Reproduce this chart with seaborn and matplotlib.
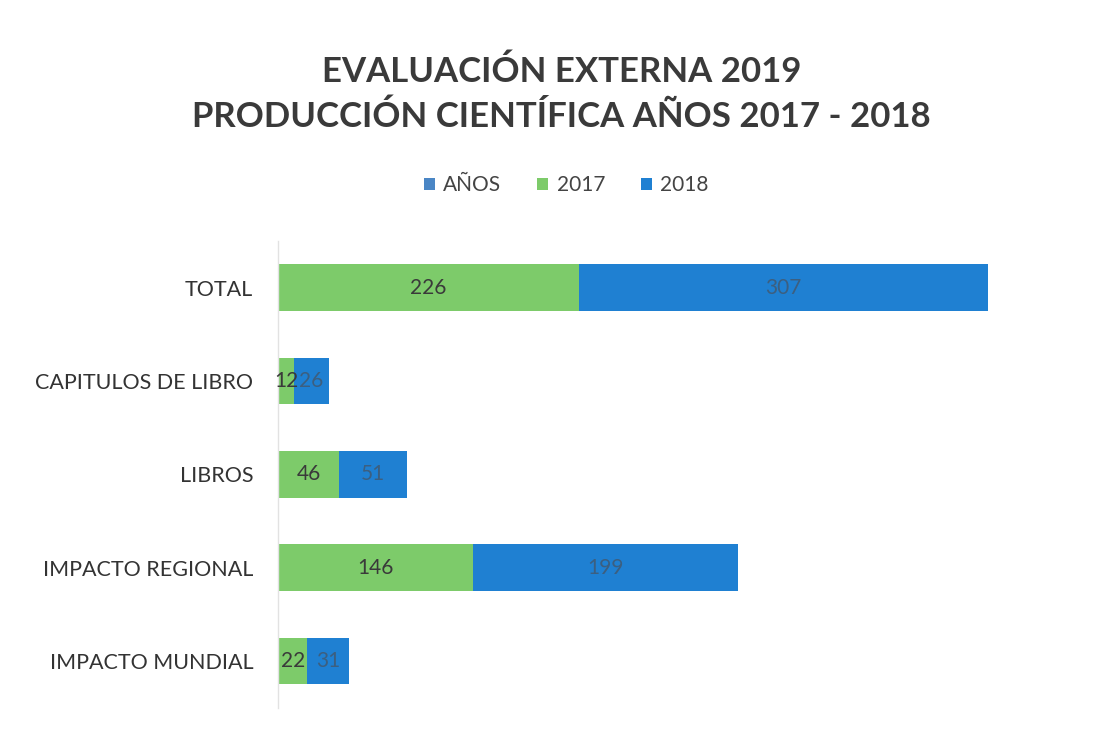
import numpy as np
import pandas as pd
import seaborn as sns
import matplotlib.pyplot as plt
from matplotlib.patches import Patch

categorias = ["TOTAL", "CAPITULOS DE LIBRO", "LIBROS", "IMPACTO REGIONAL", "IMPACTO MUNDIAL"]
valores_2017 = [226, 12, 46, 146, 22]
valores_2018 = [307, 26, 51, 199, 31]
series = ["AÑOS", "2017", "2018"]

colores = {"AÑOS": "#4a86c5", "2017": "#7dcb6a", "2018": "#1f80d2"}

sns.set_theme(style="white")
plt.rcParams["font.family"] = ["Lato", "DejaVu Sans"]

df = pd.DataFrame({
    "categoria": categorias,
    "v2017": valores_2017,
    "v2018": valores_2018,
})
df["suma"] = df["v2017"] + df["v2018"]

fig = plt.figure(figsize=(10.95, 7.35), dpi=100)
ax = fig.add_axes([0.254, 0.037, 0.714, 0.635])

# barra apilada: primero el total (azul), encima 2017 (verde)
sns.barplot(data=df, y="categoria", x="suma", color=colores["2018"], orient="h",
            width=0.5, saturation=1, linewidth=0, ax=ax)
sns.barplot(data=df, y="categoria", x="v2017", color=colores["2017"], orient="h",
            width=0.5, saturation=1, linewidth=0, ax=ax)

# etiquetas de datos
for i, row in df.iterrows():
    ax.text(row["v2017"] / 2, i, str(row["v2017"]), ha="center", va="center",
            fontsize=15, color="#3a3a3a")
    ax.text(row["v2017"] + row["v2018"] / 2, i, str(row["v2018"]), ha="center",
            va="center", fontsize=15, color="#3c5f80")

ax.set_xlim(0, 587)
ax.set_ylim(4.5, -0.5)
ax.set_xlabel("")
ax.set_ylabel("")
ax.set_xticks([])
ax.tick_params(axis="y", length=0, pad=18, labelsize=15.5, labelcolor="#333333")
for s in ["top", "right", "bottom"]:
    ax.spines[s].set_visible(False)
ax.spines["left"].set_color("#e2e2e2")
ax.spines["left"].set_linewidth(1)

fig.text(0.513, 0.902, "EVALUACIÓN EXTERNA 2019", ha="center", va="center",
         fontsize=25, fontweight="bold", color="#3a3a3a")
fig.text(0.513, 0.841, "PRODUCCIÓN CIENTÍFICA AÑOS 2017 - 2018", ha="center", va="center",
         fontsize=25, fontweight="bold", color="#3a3a3a")

handles = [Patch(facecolor=colores[s], edgecolor="none") for s in series]
fig.legend(handles, series, loc="center", bbox_to_anchor=(0.517, 0.748), ncol=3,
           frameon=False, fontsize=15, handlelength=0.55, handleheight=0.55,
           handletextpad=0.4, columnspacing=1.7, labelcolor="#444444")

plt.savefig("out.png", dpi=100)
